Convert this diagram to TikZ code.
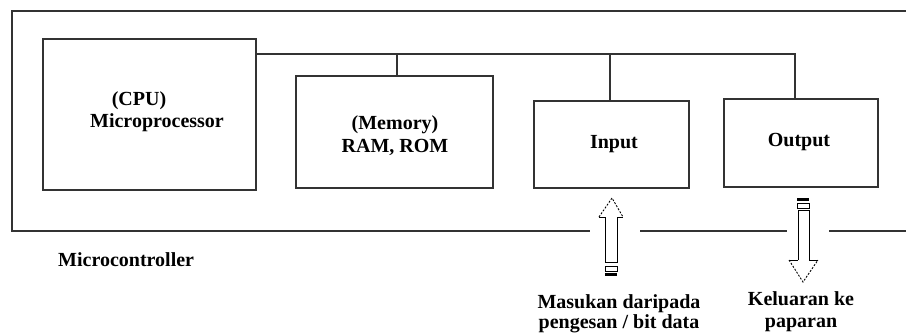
\documentclass[tikz,border=0pt]{standalone}
\usepackage{fontspec}
\setmainfont{Liberation Serif}
\begin{document}
\begin{tikzpicture}[x=1pt,y=-1pt,
  frame/.style={draw=black!80,line width=1.6pt},
  unit/.style={draw=black!80,line width=1.6pt,rectangle,inner sep=0pt},
  wire/.style={draw=black!80,line width=1.2pt},
  lbl/.style={font=\fontsize{20}{22}\selectfont\bfseries,inner sep=0pt,anchor=base},
  arr/.style={draw=black,line width=0.9pt},
  arrhead/.style={draw=black,line width=0.9pt,dash pattern=on 2pt off 1.5pt}]
\useasboundingbox (0,0) rectangle (906,333);
\fill[white] (0,0) rectangle (906,333);
% outer frame
\coordinate (tl) at (12,11);
\coordinate (tr) at (906,11);
\coordinate (bl) at (12,231);
\coordinate (g1) at (590,231);
\coordinate (g2) at (640,231);
\coordinate (g3) at (787,231);
\coordinate (g4) at (829,231);
\coordinate (br) at (906,231);
\draw[frame] (tr) -- (tl) -- (bl) -- (g1);
\draw[frame] (g2) -- (g3);
\draw[frame] (g4) -- (br);
% units
\node[unit,minimum width=213pt,minimum height=151pt] (cpu) at (149.5,114.5) {};
\node[unit,minimum width=197pt,minimum height=112pt] (mem) at (394.5,132) {};
\node[unit,minimum width=155pt,minimum height=87pt] (in) at (611.5,144.5) {};
\node[unit,minimum width=154pt,minimum height=88pt] (out) at (801,143) {};
% bus
\coordinate (busR) at (795,54);
\coordinate (busL) at (256,54);
\draw[wire] (busL) -- (busR) -- (busR |- out.north);
\draw[wire] (397,54) -- (397,54 |- mem.north);
\draw[wire] (610,54) -- (610,54 |- in.north);
% labels
\node[lbl] (cpuA) at (139,105) {(CPU)};
\node[lbl] (cpuB) at (157,127) {Microprocessor};
\node[lbl] (memA) at (395,129) {(Memory)};
\node[lbl] (memB) at (395,152) {RAM, ROM};
\node[lbl] (inL) at (614,148) {Input};
\node[lbl] (outL) at (799,146) {Output};
\node[lbl,anchor=base west] (mc) at (58,266) {Microcontroller};
\node[lbl] (inA) at (619,308) {Masukan daripada};
\node[lbl] (inB) at (619,328) {pengesan / bit data};
\node[lbl] (outA) at (801,305) {Keluaran ke};
\node[lbl] (outB) at (801,327) {paparan};
% input arrow (up)
\draw[arr] (605,217) -- (605,262) -- (617,262) -- (617,217);
\draw[arr] (605,217) -- (599,217);
\draw[arr] (617,217) -- (623,217);
\draw[arrhead] (599,217) -- (612,198) -- (623,217);
\draw[arr] (605,266) rectangle (617,271);
\fill[black] (605,273) rectangle (617,276);
% output arrow (down)
\fill[black] (797,198) rectangle (809,201);
\draw[arr] (797,203) rectangle (809,208);
\draw[arr] (798,260) -- (798,210) -- (809,210) -- (809,260);
\draw[arr] (798,260) -- (789,260);
\draw[arr] (809,260) -- (818,260);
\draw[arrhead] (789,260) -- (803,282) -- (818,260);
\end{tikzpicture}
\end{document}
